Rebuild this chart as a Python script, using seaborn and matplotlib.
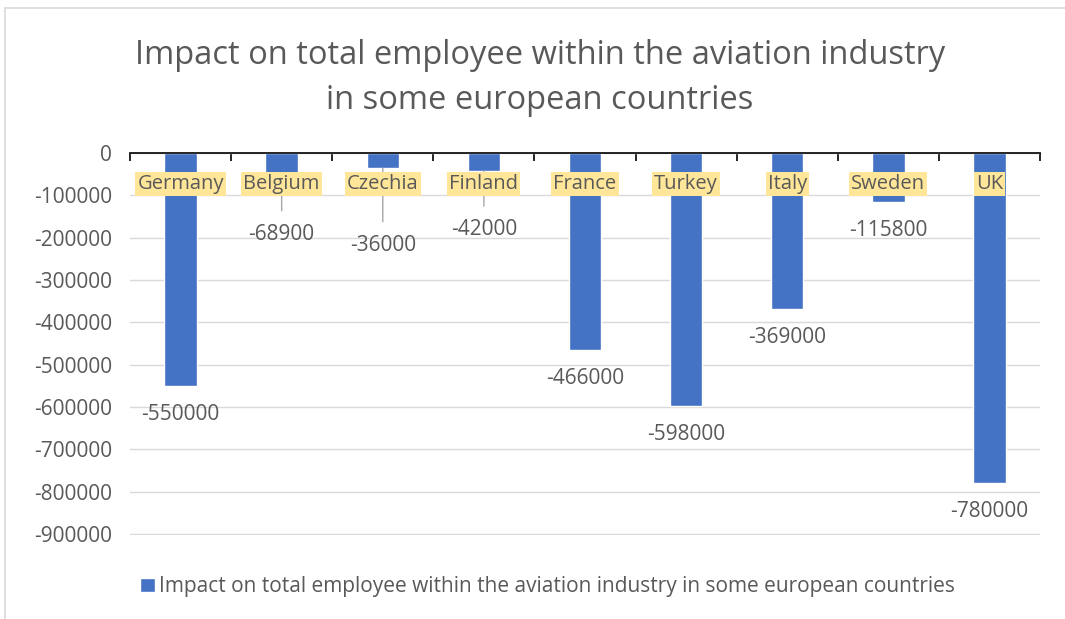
import pandas as pd
import numpy as np
import matplotlib.pyplot as plt
import seaborn as sns
from matplotlib.patches import Rectangle

countries = ["Germany", "Belgium", "Czechia", "Finland", "France", "Turkey", "Italy", "Sweden", "UK"]
impact = [-550000, -68900, -36000, -42000, -466000, -598000, -369000, -115800, -780000]
series_name = "Impact on total employee within the aviation industry in some european countries"

# labels that Excel pushed below the category labels (with leader lines)
moved_labels = {"Belgium": -192000, "Czechia": -218000, "Finland": -181000}

df = pd.DataFrame({"country": countries, "impact": impact})

sns.set_style("white")
plt.rcParams['font.family'] = ['Open Sans', 'DejaVu Sans']
grey = "#595959"
blue = "#4472C4"

fig = plt.figure(figsize=(10.65, 6.19), dpi=100)
ax = fig.add_axes([130 / 1065, 1 - 535 / 619, 910 / 1065, (535 - 153) / 619])

sns.barplot(data=df, x="country", y="impact", color=blue, width=0.32,
            saturation=1, ax=ax, label=series_name, zorder=2)
if ax.get_legend() is not None:
    ax.get_legend().remove()

ax.set_ylim(-902000, 0)
ax.set_xlim(-0.5, len(countries) - 0.5)
ax.set_yticks(np.arange(-900000, 1, 100000))
ax.set_yticklabels([str(int(v)) for v in np.arange(-900000, 1, 100000)], color=grey, fontsize=15)
ax.tick_params(axis="y", length=0, pad=13)
ax.yaxis.grid(True, color="#D9D9D9", linewidth=1, zorder=0)
ax.set_axisbelow(True)
ax.set_xlabel("")
ax.set_ylabel("")

# x axis sits at 0 (top), ticks between categories pointing down
ax.xaxis.set_ticks_position("top")
ax.set_xticks([])
ax.set_xticks(np.arange(-0.5, len(countries), 1), minor=True)
ax.tick_params(axis="x", which="minor", direction="in", length=6, width=1.2, color="black")
for s in ["left", "right", "bottom"]:
    ax.spines[s].set_visible(False)
ax.spines["top"].set_color("black")
ax.spines["top"].set_linewidth(1.2)

# category labels with yellow fill
for i, c in enumerate(countries):
    ax.text(i, -73000, c, ha="center", va="center", fontsize=14.5, color=grey, zorder=6,
            bbox=dict(boxstyle="square,pad=0.1", fc="#FFE699", ec="none"))

# data labels
for i, (c, v) in enumerate(zip(countries, impact)):
    if c in moved_labels:
        ax.annotate(str(v), xy=(i, v), xytext=(i, moved_labels[c]), ha="center", va="center",
                    fontsize=15, color=grey, zorder=5,
                    arrowprops=dict(arrowstyle="-", color="#A6A6A6", lw=1, shrinkA=7, shrinkB=0))
    else:
        ax.annotate(str(v), xy=(i, v), xytext=(0, -20.5), textcoords="offset points",
                    ha="center", va="center", fontsize=15, color=grey, zorder=5)

fig.text(0.507, 0.91, "Impact on total employee within the aviation industry", ha="center",
         va="center", fontsize=23.5, color=grey)
fig.text(0.507, 0.838, "in some european countries", ha="center", va="center",
         fontsize=23.5, color=grey)

handles, labels = ax.get_legend_handles_labels()
leg = fig.legend(handles, labels, loc="center", bbox_to_anchor=(0.514, 0.052), frameon=False,
                 fontsize=15, handlelength=0.7, handleheight=0.7, handletextpad=0.2)
for t in leg.get_texts():
    t.set_color(grey)

fig.patches.append(Rectangle((5 / 1065, -0.01), 1.1, (619 - 8) / 619 + 0.01,
                             transform=fig.transFigure, fill=False, ec="#D9D9D9", lw=1.2))

fig.savefig("out.png", dpi=100)
